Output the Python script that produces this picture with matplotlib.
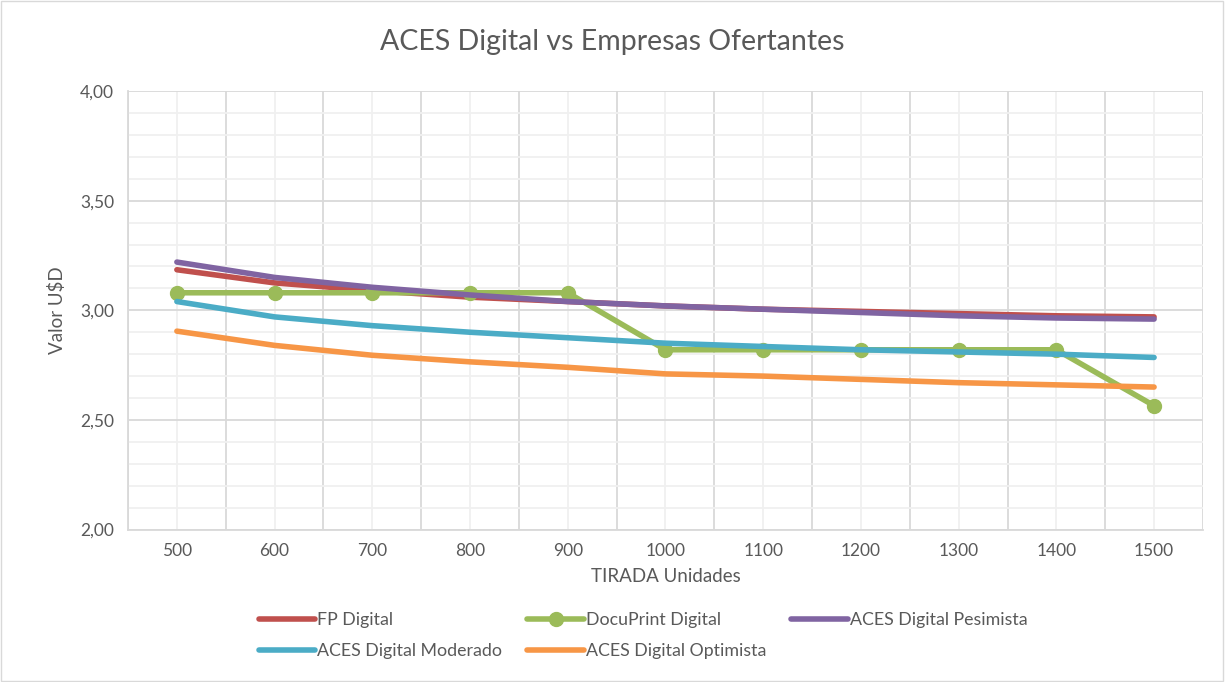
import numpy as np
import matplotlib.pyplot as plt
from matplotlib.ticker import FixedLocator, MultipleLocator, FuncFormatter
from matplotlib.patches import Rectangle

tiradas = [500, 600, 700, 800, 900, 1000, 1100, 1200, 1300, 1400, 1500]
fp_digital = [3.185, 3.125, 3.09, 3.06, 3.04, 3.02, 3.005, 2.995, 2.985, 2.975, 2.97]
docuprint = [3.08, 3.08, 3.08, 3.08, 3.08, 2.82, 2.82, 2.82, 2.82, 2.82, 2.565]
aces_pesimista = [3.22, 3.15, 3.105, 3.07, 3.04, 3.02, 3.005, 2.99, 2.975, 2.965, 2.96]
aces_moderado = [3.04, 2.97, 2.93, 2.90, 2.875, 2.85, 2.835, 2.82, 2.81, 2.80, 2.785]
aces_optimista = [2.905, 2.84, 2.795, 2.765, 2.74, 2.71, 2.70, 2.685, 2.67, 2.66, 2.65]

text_color = "#595959"
plt.rcParams['font.family'] = ['Lato', 'DejaVu Sans']

fig = plt.figure(figsize=(12.25, 6.82), dpi=100)
ax = fig.add_axes([0.1045, 0.2235, 0.8775, 0.643])

x = np.arange(len(tiradas))
lw = 4
ax.plot(x, fp_digital, color="#C0504D", lw=lw, label="FP Digital", solid_capstyle="round")
ax.plot(x, docuprint, color="#9BBB59", lw=lw, marker="o", markersize=10, label="DocuPrint Digital", solid_capstyle="round")
ax.plot(x, aces_pesimista, color="#8064A2", lw=lw, label="ACES Digital Pesimista", solid_capstyle="round")
ax.plot(x, aces_moderado, color="#4BACC6", lw=lw, label="ACES Digital Moderado", solid_capstyle="round")
ax.plot(x, aces_optimista, color="#F79646", lw=lw, label="ACES Digital Optimista", solid_capstyle="round")

ax.set_xlim(-0.5, len(tiradas) - 0.5)
ax.set_ylim(2.0, 4.0)

# category labels at centres, darker grid at category boundaries
ax.xaxis.set_major_locator(FixedLocator(x))
ax.set_xticklabels([str(t) for t in tiradas])
ax.xaxis.set_minor_locator(FixedLocator(np.arange(-0.5, len(tiradas), 1.0)))
ax.yaxis.set_major_locator(MultipleLocator(0.5))
ax.yaxis.set_minor_locator(MultipleLocator(0.1))
ax.yaxis.set_major_formatter(FuncFormatter(lambda v, p: f"{v:.2f}".replace(".", ",")))

ax.grid(True, which="major", axis="y", color="#D9D9D9", lw=1.3)
ax.grid(True, which="minor", axis="y", color="#F0F0F0", lw=1.3)
ax.grid(True, which="minor", axis="x", color="#D9D9D9", lw=1.3)
ax.grid(True, which="major", axis="x", color="#F0F0F0", lw=1.3)
ax.set_axisbelow(True)

ax.tick_params(which="both", length=0, colors=text_color, labelsize=12.5, pad=10)
for s in ["top", "right"]:
    ax.spines[s].set_visible(False)
for s in ["left", "bottom"]:
    ax.spines[s].set_color("#D9D9D9")
    ax.spines[s].set_linewidth(1.3)

ax.set_xlabel("TIRADA Unidades", fontsize=13.5, color=text_color, labelpad=6)
ax.set_ylabel("Valor U$D", fontsize=13.5, color=text_color, labelpad=10)
fig.suptitle("ACES Digital vs Empresas Ofertantes", fontsize=20.5, color=text_color, y=0.958)

handles, labels = ax.get_legend_handles_labels()
order = [0, 3, 1, 4, 2]
fig.legend([handles[i] for i in order], [labels[i] for i in order], ncol=3,
           loc="lower left", bbox_to_anchor=(0.198, 0.01), frameon=False,
           fontsize=12.8, labelcolor=text_color, handlelength=3.2,
           handletextpad=0.1, columnspacing=1.4, labelspacing=0.85)

fig.patches.append(Rectangle((0.001, 0.001), 0.997, 0.997, transform=fig.transFigure,
                             fill=False, edgecolor="#D9D9D9", lw=1))

fig.savefig("out.png", dpi=100)
